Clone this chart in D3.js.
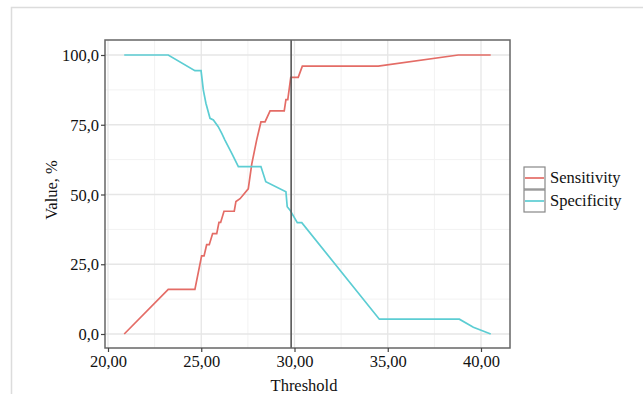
<!DOCTYPE html>
<html>
<head>
<meta charset="utf-8">
<script src="https://cdn.jsdelivr.net/npm/d3@7"></script>
<style>
  body { margin: 0; background: #fff; }
  svg text { font-family: "Liberation Serif", "Times New Roman", serif; fill: #111; }
</style>
</head>
<body>
<svg id="chart" width="643" height="394"></svg>
<script>
// threshold / value pairs
const sensThreshold = [20.87, 23.23, 24.66, 25.02, 25.15, 25.29, 25.43, 25.61, 25.83, 25.95, 26.04, 26.22, 26.77, 26.86, 27.08, 27.52, 27.71, 27.97, 28.20, 28.42, 28.69, 29.45, 29.54, 29.64, 29.80, 30.20, 30.42, 34.49, 38.78, 40.52];
const sensValue     = [0, 16, 16, 28, 28, 32, 32, 36, 36, 40, 40, 44, 44, 47.5, 48.5, 52, 61, 69.5, 76, 76, 80, 80, 84, 84, 92, 92, 96, 96, 100, 100];

const specThreshold = [20.87, 23.23, 24.66, 24.99, 25.11, 25.25, 25.47, 25.65, 25.91, 26.10, 26.27, 26.63, 26.99, 28.20, 28.46, 29.54, 29.61, 29.76, 30.15, 30.39, 34.55, 38.84, 39.59, 40.52];
const specValue     = [100, 100, 94.4, 94.4, 87.5, 82.7, 77.3, 76.7, 74.3, 71.9, 69.5, 64.8, 60, 60, 54.6, 51, 45.6, 44.4, 39.9, 39.9, 5.3, 5.3, 2.4, 0];

const cutoff = 29.82;

const xTicks = [20, 25, 30, 35, 40];
const yTicks = [0, 25, 50, 75, 100];
const seriesNames = ['Sensitivity', 'Specificity'];
const seriesColors = ['#e46c66', '#5ccdd3'];

const svg = d3.select('#chart');
const fmtComma = (d, n) => d.toFixed(n).replace('.', ',');

// outer frame
svg.append('rect')
   .attr('x', 11.5).attr('y', 7.5)
   .attr('width', 700).attr('height', 500)
   .attr('fill', 'none').attr('stroke', '#dcdcdc').attr('stroke-width', 1.5);

const panel = { left: 105, top: 40, right: 510, bottom: 348 };

const x = d3.scaleLinear().domain([20, 40]).range([108, 481]);
const y = d3.scaleLinear().domain([0, 100]).range([334, 55]);

const g = svg.append('g');

// grid, minor then major
const xMinor = d3.range(17.5, 42.5, 5).filter(v => x(v) > panel.left && x(v) < panel.right);
const yMinor = d3.range(-12.5, 112.5, 25).filter(v => y(v) > panel.top && y(v) < panel.bottom);

g.selectAll('.xminor').data(xMinor).enter().append('line')
 .attr('x1', d => x(d)).attr('x2', d => x(d))
 .attr('y1', panel.top).attr('y2', panel.bottom)
 .attr('stroke', '#f2f2f2').attr('stroke-width', 1);
g.selectAll('.yminor').data(yMinor).enter().append('line')
 .attr('y1', d => y(d)).attr('y2', d => y(d))
 .attr('x1', panel.left).attr('x2', panel.right)
 .attr('stroke', '#f2f2f2').attr('stroke-width', 1);
g.selectAll('.xmajor').data(xTicks).enter().append('line')
 .attr('x1', d => x(d)).attr('x2', d => x(d))
 .attr('y1', panel.top).attr('y2', panel.bottom)
 .attr('stroke', '#e6e6e6').attr('stroke-width', 1.3);
g.selectAll('.ymajor').data(yTicks).enter().append('line')
 .attr('y1', d => y(d)).attr('y2', d => y(d))
 .attr('x1', panel.left).attr('x2', panel.right)
 .attr('stroke', '#e6e6e6').attr('stroke-width', 1.3);

// lines
const line = d3.line().x(d => x(d[0])).y(d => y(d[1]));
const sens = sensThreshold.map((t, i) => [t, sensValue[i]]);
const spec = specThreshold.map((t, i) => [t, specValue[i]]);

g.append('path').datum(sens)
 .attr('d', line).attr('fill', 'none')
 .attr('stroke', seriesColors[0]).attr('stroke-width', 1.7);
g.append('path').datum(spec)
 .attr('d', line).attr('fill', 'none')
 .attr('stroke', seriesColors[1]).attr('stroke-width', 1.7);

// cutoff
g.append('line')
 .attr('x1', x(cutoff)).attr('x2', x(cutoff))
 .attr('y1', panel.top).attr('y2', panel.bottom)
 .attr('stroke', '#555').attr('stroke-width', 1.6);

// panel border
g.append('rect')
 .attr('x', panel.left).attr('y', panel.top)
 .attr('width', panel.right - panel.left).attr('height', panel.bottom - panel.top)
 .attr('fill', 'none').attr('stroke', '#666').attr('stroke-width', 1.5);

// axes
const xAxis = d3.axisBottom(x).tickValues(xTicks).tickSize(4).tickPadding(3)
                .tickFormat(d => fmtComma(d, 2));
const yAxis = d3.axisLeft(y).tickValues(yTicks).tickSize(4).tickPadding(2)
                .tickFormat(d => fmtComma(d, 1));

const xa = svg.append('g').attr('transform', `translate(0,${panel.bottom})`).call(xAxis);
const ya = svg.append('g').attr('transform', `translate(${panel.left},0)`).call(yAxis);
[xa, ya].forEach(a => {
  a.select('.domain').remove();
  a.selectAll('.tick line').attr('stroke', '#444').attr('stroke-width', 1.2);
  a.selectAll('.tick text').attr('font-size', 16.5).attr('fill', '#111')
   .style('font-family', '"Liberation Serif", serif');
});
ya.selectAll('.tick text').attr('dy', '0.34em');

svg.append('text')
   .attr('x', 304).attr('y', 391)
   .attr('text-anchor', 'middle').attr('font-size', 16.5)
   .text('Threshold');

svg.append('text')
   .attr('transform', 'translate(57,190) rotate(-90)')
   .attr('text-anchor', 'middle').attr('font-size', 16.5)
   .text('Value, %');

// legend
const legend = svg.append('g').attr('transform', 'translate(524,167)');
const item = legend.selectAll('g').data(seriesNames).enter().append('g')
                   .attr('transform', (d, i) => `translate(0,${i * 23})`);
item.append('rect')
    .attr('width', 21).attr('height', 22)
    .attr('fill', '#fff').attr('stroke', '#888').attr('stroke-width', 1.2);
item.append('line')
    .attr('x1', 1).attr('x2', 20).attr('y1', 11).attr('y2', 11)
    .attr('stroke', (d, i) => seriesColors[i]).attr('stroke-width', 1.7);
item.append('text')
    .attr('x', 26).attr('y', 16)
    .attr('font-size', 16.5)
    .text(d => d);
</script>
</body>
</html>
